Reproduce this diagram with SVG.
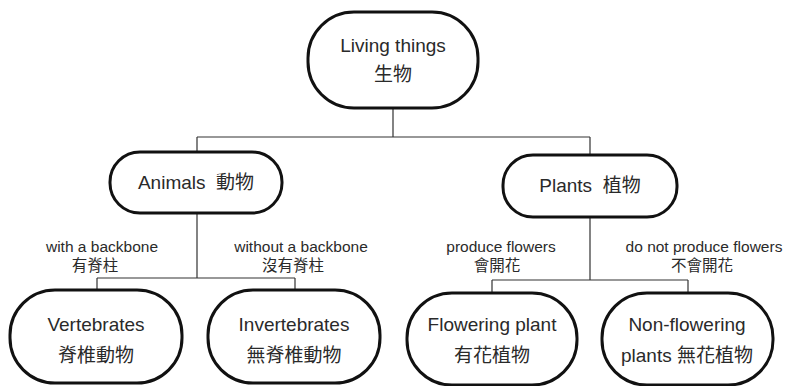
<svg xmlns="http://www.w3.org/2000/svg" width="785" height="386" viewBox="0 0 785 386">
  <style>
    .node rect { fill: #ffffff; stroke: #111111; stroke-width: 3; }
    .node text { font-family: "Liberation Sans", "Noto Sans CJK TC", sans-serif; font-size: 19px; fill: #2a2a2a; text-anchor: middle; }
    .edges path { fill: none; stroke: #333333; stroke-width: 1.2; }
    .lbl { font-family: "Liberation Sans", "Noto Sans CJK TC", sans-serif; font-size: 15.5px; fill: #2a2a2a; text-anchor: middle; }
  </style>
  <rect width="785" height="386" fill="#ffffff"/>

  <!-- connectors -->
  <g id="edges" class="edges">
    <path d="M393 108 V137 M197 137 H590 M197 137 V152 M590 137 V155"/>
    <path d="M197 213 V278 M97 278 H295 M97 278 V290 M295 278 V290"/>
    <path d="M590 217 V280 M492 280 H688 M492 280 V293 M688 280 V293"/>
  </g>

  <!-- edge labels -->
  <g id="edge-labels">
    <text class="lbl" x="102" y="252">with a backbone</text>
    <text class="lbl" x="95" y="271">有脊柱</text>
    <text class="lbl" x="301" y="252">without a backbone</text>
    <text class="lbl" x="293" y="271">沒有脊柱</text>
    <text class="lbl" x="501" y="252">produce flowers</text>
    <text class="lbl" x="497" y="271">會開花</text>
    <text class="lbl" x="704" y="252">do not produce flowers</text>
    <text class="lbl" x="702" y="271">不會開花</text>
  </g>

  <g id="living-things" class="node">
    <rect x="308" y="12" width="170" height="96" rx="46" ry="46"/>
    <text x="393" y="52">Living things</text>
    <text x="393" y="81">生物</text>
  </g>

  <g id="animals" class="node">
    <rect x="110" y="152" width="172" height="61" rx="30" ry="30"/>
    <text x="196" y="189" xml:space="preserve">Animals  動物</text>
  </g>

  <g id="plants" class="node">
    <rect x="503" y="155" width="174" height="62" rx="30" ry="30"/>
    <text x="590" y="192" xml:space="preserve">Plants  植物</text>
  </g>

  <g id="vertebrates" class="node">
    <rect x="10" y="290" width="172" height="93" rx="45" ry="45"/>
    <text x="96" y="331">Vertebrates</text>
    <text x="96" y="362">脊椎動物</text>
  </g>

  <g id="invertebrates" class="node">
    <rect x="208" y="290" width="172" height="93" rx="45" ry="45"/>
    <text x="294" y="331">Invertebrates</text>
    <text x="294" y="362">無脊椎動物</text>
  </g>

  <g id="flowering-plant" class="node">
    <rect x="407" y="293" width="170" height="92" rx="45" ry="45"/>
    <text x="492" y="331">Flowering plant</text>
    <text x="492" y="362">有花植物</text>
  </g>

  <g id="non-flowering-plants" class="node">
    <rect x="602" y="293" width="171" height="92" rx="45" ry="45"/>
    <text x="687" y="331">Non-flowering</text>
    <text x="687" y="362">plants 無花植物</text>
  </g>
</svg>
